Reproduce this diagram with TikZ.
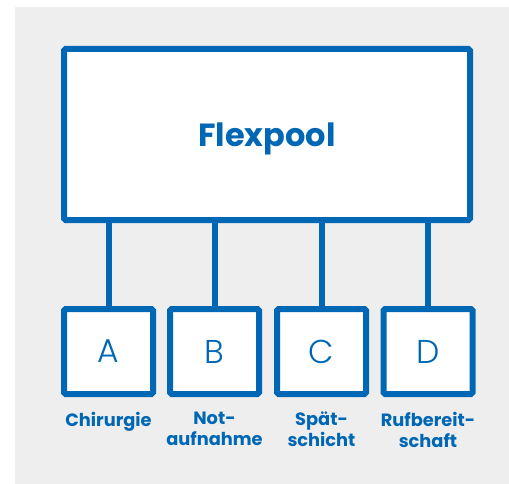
\documentclass[tikz,border=0pt]{standalone}
\usepackage{fontspec}
\setmainfont{Poppins}
\newfontfamily\lightfont{Poppins Light}
\newfontfamily\boldfont{Poppins Bold}
\usetikzlibrary{positioning}

\definecolor{poolblue}{HTML}{0067B4}
\definecolor{bggray}{HTML}{EEEEEE}

\tikzset{
  poolbox/.style={draw=poolblue, fill=white, line width=6pt, rounded corners=1.5pt,
    minimum width=406pt, minimum height=171pt, text=poolblue,
    font=\boldfont\fontsize{32}{33}\selectfont},
  unitbox/.style={draw=poolblue, fill=white, line width=6pt, rounded corners=1.5pt,
    minimum width=89pt, minimum height=85pt, text=poolblue,
    font=\lightfont\fontsize{33}{34}\selectfont},
  unitlabel/.style={text=poolblue, align=center, inner sep=0pt,
    font=\boldfont\fontsize{17.8}{21}\selectfont},
  link/.style={draw=poolblue, line width=6pt}
}

\begin{document}
\begin{tikzpicture}[x=1pt, y=-1pt, node distance=10pt]
\fill[bggray] (15,7) rectangle (509,484);
\useasboundingbox (0,0) rectangle (509,484);

% pool
\node[poolbox, text depth=-2pt] (pool) at (267,134.5) {Flexpool};

% units
\node[unitbox] (A) at (108.5,351.5) {A};
\node[unitbox] (B) at (214.5,351.5) {B};
\node[unitbox] (C) at (321.5,351.5) {C};
\node[unitbox] (D) at (428,351.5) {D};

% labels
\node[unitlabel, below=15pt of A.south, anchor=north] (labA) {Chirurgie};
\node[unitlabel, below=15pt of B.south, anchor=north] (labB) {Not-\\aufnahme};
\node[unitlabel, below=15pt of C.south, anchor=north] (labC) {Spät-\\schicht};
\node[unitlabel, below=15pt of D.south, anchor=north] (labD) {Rufbereit-\\schaft};

% links
\foreach \u in {A,B,C,D}
  \draw[link] (\u.north) -- (\u.north |- pool.south);
\end{tikzpicture}
\end{document}
